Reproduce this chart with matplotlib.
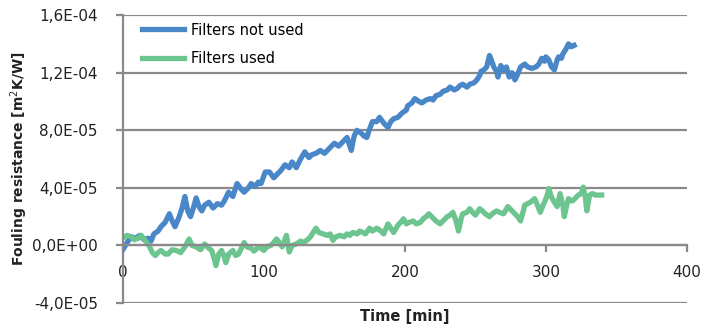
import numpy as np
import matplotlib
matplotlib.use("Agg")
import matplotlib.pyplot as plt

# series, values in 1e-5 m2K/W
t_no_filter = [0, 3, 6, 9, 12, 15, 18, 20, 22, 25, 27, 30, 33, 35, 37, 40, 42, 44, 46, 48,
               50, 52, 54, 56, 58, 61, 64, 67, 70, 72, 75, 78, 81, 84, 86, 89, 91, 94, 96, 98,
               101, 104, 107, 109, 112, 115, 118, 120, 123, 126, 129, 132, 134, 137, 140, 143,
               145, 148, 150, 153, 155, 157, 159, 162, 164, 166, 169, 171, 173, 175, 177, 180,
               182, 185, 188, 190, 192, 195, 198, 201, 202, 205, 207, 210, 212, 215, 218, 220,
               222, 225, 227, 230, 232, 235, 237, 239, 241, 244, 246, 249, 251, 253, 254, 256,
               258, 260, 262, 263, 265, 266, 268, 270, 272, 274, 276, 278, 280, 282, 285, 287,
               290, 293, 295, 297, 299, 300, 302, 304, 306, 308, 309, 311, 312, 314, 316, 318, 320]
r_no_filter = [-0.3, 0.2, 0.6, 0.5, 0.7, 0.4, 0.5, 0.3, 0.8, 1.0, 1.3, 1.6, 2.2, 1.7, 1.3, 2.0, 2.6, 3.4, 2.4, 2.0,
               2.6, 3.3, 2.7, 2.4, 2.8, 3.0, 2.6, 2.9, 2.8, 3.1, 3.7, 3.4, 4.3, 3.9, 3.7, 4.0, 4.3, 4.1, 4.4, 4.3,
               5.1, 5.1, 4.7, 4.9, 5.2, 5.6, 5.4, 5.8, 5.4, 6.0, 6.5, 6.1, 6.3, 6.4, 6.6, 6.4,
               6.6, 6.9, 7.1, 6.9, 7.1, 7.3, 7.5, 6.6, 7.6, 8.0, 7.8, 7.6, 7.5, 8.1, 8.6, 8.6,
               8.9, 8.5, 8.2, 8.6, 8.8, 8.9, 9.2, 9.4, 9.7, 9.9, 10.2, 10.0, 9.9, 10.1, 10.2, 10.1,
               10.4, 10.5, 10.7, 10.8, 11.0, 10.8, 10.9, 11.1, 11.2, 11.0, 11.2, 11.3, 11.5, 11.8, 12.1, 12.2,
               12.4, 13.2, 12.7, 12.4, 12.1, 11.7, 12.5, 12.2, 12.4, 11.7, 12.0, 11.5, 11.9, 12.4, 12.6, 12.4,
               12.3, 12.4, 12.6, 13.0, 12.8, 13.1, 12.9, 12.4, 12.2, 12.9, 13.1, 13.0, 13.3, 13.6, 14.0, 13.8, 13.9]

t_filter = [0, 3, 6, 8, 11, 13, 15, 17, 19, 21, 23, 25, 27, 30, 32, 35, 38, 41, 44, 47,
            49, 52, 55, 58, 61, 63, 65, 66, 68, 70, 72, 73, 75, 78, 80, 82, 84, 86, 88, 91,
            93, 96, 98, 100, 102, 105, 107, 109, 111, 113, 116, 118, 120, 123, 126, 128, 131,
            133, 135, 137, 139, 142, 145, 147, 149, 151, 154, 157, 159, 161, 163, 166, 168,
            170, 172, 175, 177, 180, 183, 185, 188, 190, 192, 195, 197, 199, 201, 203, 206,
            208, 211, 213, 215, 217, 220, 222, 225, 228, 230, 232, 234, 236, 238, 240, 241,
            244, 246, 248, 250, 253, 255, 257, 260, 262, 265, 267, 270, 273, 275, 277, 280,
            282, 284, 285, 287, 289, 292, 294, 296, 298, 299, 301, 302, 304, 306, 308, 310,
            312, 313, 315, 316, 318, 319, 321, 323, 325, 326.5, 328, 329, 331, 333, 335, 337, 339.5]
r_filter = [0.5, 0.7, 0.6, 0.4, 0.5, 0.7, 0.45, 0.2, -0.1, -0.5, -0.7, -0.5, -0.35, -0.6, -0.6, -0.3, -0.35, -0.5, -0.1, 0.45,
            0.0, -0.1, -0.3, 0.1, -0.2, -0.35, -1.0, -1.4, -0.6, -0.35, -0.8, -1.2, -0.6, -0.35, -0.7, -0.6, -0.2, 0.2, -0.1, -0.2,
            -0.4, -0.1, -0.2, -0.35, -0.1, 0.0, 0.2, 0.45, 0.2, -0.1, 0.7, -0.45, 0.0, 0.1, 0.3, 0.2, 0.4,
            0.6, 0.9, 1.2, 0.9, 0.8, 0.7, 0.8, 0.35, 0.6, 0.7, 0.6, 0.8, 0.7, 0.9, 0.8, 1.0,
            0.9, 0.8, 1.2, 1.0, 1.2, 1.0, 0.8, 1.5, 1.2, 0.9, 1.4, 1.6, 1.85, 1.5, 1.6, 1.7,
            1.5, 1.6, 1.85, 2.0, 2.2, 1.9, 1.7, 1.5, 1.8, 2.0, 2.1, 2.3, 1.8, 1.0, 1.9, 2.2,
            2.3, 2.55, 2.3, 2.1, 2.55, 2.4, 2.2, 2.0, 2.2, 2.4, 2.3, 2.2, 2.7, 2.5, 2.3, 2.0,
            1.7, 2.4, 2.8, 2.9, 3.0, 3.25, 2.8, 2.3, 2.8, 3.0, 3.5, 3.95, 3.35, 3.0, 2.7, 3.6,
            2.8, 2.0, 2.9, 3.25, 3.1, 3.1, 3.3, 3.5, 3.6, 4.05, 3.3, 2.4, 3.5, 3.6, 3.5, 3.5, 3.5]

x_ticks = [0, 100, 200, 300, 400]
y_ticks = [-4e-5, 0, 4e-5, 8e-5, 1.2e-4, 1.6e-4]
y_labels = ["-4,0E-05", "0,0E+00", "4,0E-05", "8,0E-05", "1,2E-04", "1,6E-04"]

BLUE = "#4a87c9"
GREEN = "#6cc48f"
GREY = "#8a8a8a"

fig = plt.figure(figsize=(7.06, 3.29), dpi=100)
ax = fig.add_axes([0.174, 0.079, 0.799, 0.875])

ax.plot(t_no_filter, np.array(r_no_filter) * 1e-5, color=BLUE, lw=3.8,
        label="Filters not used", solid_joinstyle="round")
ax.plot(t_filter, np.array(r_filter) * 1e-5, color=GREEN, lw=3.8,
        label="Filters used", solid_joinstyle="round")

ax.set_xlim(0, 400)
ax.set_ylim(-4e-5, 1.6e-4)
ax.set_xticks(x_ticks)
ax.set_yticks(y_ticks)
ax.set_yticklabels(y_labels)

# horizontal gridlines
for y in y_ticks:
    ax.axhline(y, color=GREY, lw=1.6, zorder=0.5)

for s in ["top", "right"]:
    ax.spines[s].set_visible(False)
ax.spines["left"].set_color(GREY)
ax.spines["left"].set_linewidth(1.6)
ax.spines["bottom"].set_position(("data", 0))
ax.spines["bottom"].set_color(GREY)
ax.spines["bottom"].set_linewidth(1.6)

ax.tick_params(axis="both", colors=GREY, width=1.6, length=5, labelsize=11, labelcolor="#222222")
ax.tick_params(axis="x", pad=9)
ax.tick_params(axis="y", pad=13)

ax.set_xlabel("Time [min]", fontsize=10.5, fontweight="bold", color="#222222")
ax.set_ylabel("Fouling resistance [m$^2$K/W]", fontsize=10, fontweight="bold", color="#222222")
ax.xaxis.set_label_coords(0.5, -0.022)
ax.yaxis.set_label_coords(-0.165, 0.5)

leg = ax.legend(loc="upper left", frameon=False, fontsize=10.5, handlelength=2.9,
                handletextpad=0.5, labelspacing=0.95, bbox_to_anchor=(0.01, 1.02))

fig.savefig("out.png", dpi=100)
